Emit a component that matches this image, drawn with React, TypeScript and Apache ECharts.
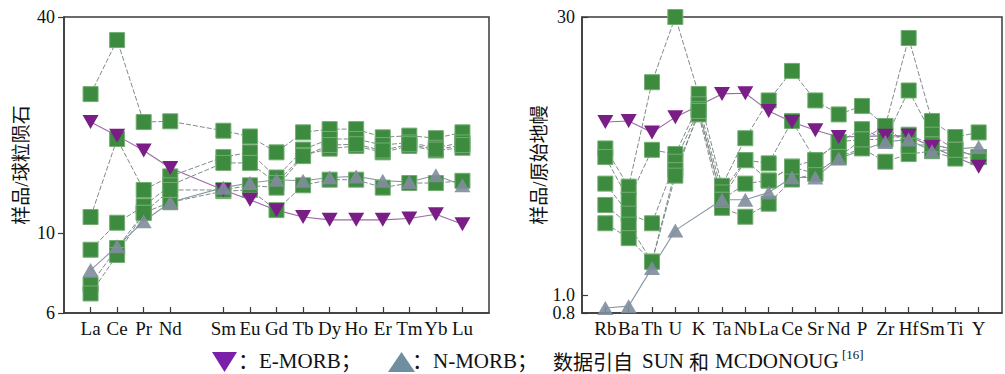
import React, { useEffect, useRef } from "react";
import * as echarts from "echarts";

// Chondrite-normalised REE pattern (left panel)
const REE = ["La", "Ce", "Pr", "Nd", "Sm", "Eu", "Gd", "Tb", "Dy", "Ho", "Er", "Tm", "Yb", "Lu"];
// axis slots: a blank slot at each end and an unlabelled slot for Pm
const REE_SLOTS = ["", "La", "Ce", "Pr", "Nd", "", "Sm", "Eu", "Gd", "Tb", "Dy", "Ho", "Er", "Tm", "Yb", "Lu", ""];
const REE_TICKS = [6, 10, 40];

const reeSampleA = [24.4, 34.5, 20.4, 20.5, 19.3, 18.6, 16.8, 19.1, 19.5, 19.5, 18.5, 18.7, 18.4, 19.1];
const reeSampleB = [11.1, 18.3, 13.2, 14.4, 16.3, 16.8, 14.3, 17.1, 18.3, 18.3, 17.6, 17.9, 17.3, 17.9];
const reeSampleC = [9.0, 10.7, 11.9, 13.6, 15.7, 15.7, 13.8, 16.5, 17.2, 17.5, 16.8, 17.5, 17.0, 17.3];
const reeSampleD = [7.2, 9.1, 11.4, 12.2, 13.1, 13.2, 11.6, 13.6, 14.1, 14.1, 13.4, 13.8, 13.8, 14.0];
const reeSampleE = [6.8, 8.7, 11.4, 13.2, 13.2, 13.6, 13.4, 16.4, 17.6, 17.7, 17.0, 17.7, 17.1, 17.6];
const reeEMORB = [20.4, 18.7, 17.0, 15.2, 13.2, 12.4, 11.6, 11.1, 10.9, 10.9, 10.9, 11.0, 11.3, 10.6];
const reeNMORB = [7.9, 9.2, 10.8, 12.2, 13.4, 13.8, 14.1, 14.0, 14.3, 14.4, 14.0, 13.9, 14.5, 13.6];

// Primitive-mantle-normalised trace elements (right panel)
const TRACE = ["Rb", "Ba", "Th", "U", "K", "Ta", "Nb", "La", "Ce", "Sr", "Nd", "P", "Zr", "Hf", "Sm", "Ti", "Y"];
const TRACE_SLOTS = ["", ...TRACE, ""];
const TRACE_TICKS = [0.8, 1, 30];

const trSampleA = [6.0, 3.76, 13.5, 30, 11.7, 3.8, 6.8, 10.8, 15.5, 10.8, 9.1, 10.1, 7.9, 23.2, 8.4, 6.9, 7.3];
const trSampleB = [5.4, 3.2, 5.9, 5.6, 10.3, 3.5, 5.2, 5.0, 8.4, 5.2, 6.5, 7.6, 6.7, 12.2, 7.1, 5.9, 5.4];
const trSampleC = [3.9, 2.7, 2.4, 5.1, 9.7, 3.2, 3.9, 4.05, 4.8, 4.4, 5.4, 6.7, 6.7, 7.1, 6.3, 5.9, 5.4];
const trSampleD = [3.0, 2.36, 1.5, 4.6, 9.1, 2.9, 2.6, 3.05, 4.1, 4.4, 5.4, 6.0, 5.1, 5.6, 5.8, 5.3, 5.4];
const trSampleE = [2.4, 2.0, 1.5, 4.3, 9.5, 3.2, 5.2, 4.05, 4.8, 5.2, 6.5, 6.7, 7.9, 6.2, 6.3, 5.9, 5.4];
const trEMORB = [8.3, 8.4, 7.3, 8.8, null, 11.7, 11.8, 9.5, 8.3, 7.5, 6.9, null, 7.0, 7.0, 6.1, null, 4.8];
const trNMORB = [0.85, 0.87, 1.39, 2.2, null, 3.2, 3.2, 3.5, 4.2, 4.2, 5.3, null, 6.5, 6.7, 5.8, null, 6.1];

const SERIF = "'Liberation Serif', 'Noto Sans CJK SC', serif";
const CJK = "'Noto Sans CJK SC', sans-serif";
const INK = "#111";
const FRAME = "#3a3a3a";

const toSlots = (names: string[], slots: string[], values: (number | null)[]) =>
  slots.map((s) => {
    const i = s ? names.indexOf(s) : -1;
    return i >= 0 ? values[i] : null;
  });

const fmtTick = (v: number) => (v < 1.05 ? v.toFixed(1) : String(Math.round(v)));

function sampleSeries(axis: number, names: string[], slots: string[], values: number[]) {
  return {
    type: "line",
    xAxisIndex: axis,
    yAxisIndex: axis,
    data: toSlots(names, slots, values),
    connectNulls: true,
    clip: false,
    symbol: "rect",
    symbolSize: 15,
    itemStyle: { color: "#3c8b3f", borderColor: "#74ad74", borderWidth: 1 },
    lineStyle: { color: "#7f8b8b", width: 1, type: [5, 2] },
    emphasis: { disabled: true },
  };
}

function morbSeries(axis: number, names: string[], slots: string[], values: (number | null)[], kind: "E" | "N") {
  const e = kind === "E";
  return {
    type: "line",
    xAxisIndex: axis,
    yAxisIndex: axis,
    data: toSlots(names, slots, values),
    connectNulls: true,
    clip: false,
    symbol: "triangle",
    symbolRotate: e ? 180 : 0,
    symbolSize: [16, 14],
    itemStyle: { color: e ? "#7b1d86" : "#7f8d9c", opacity: e ? 1 : 0.9 },
    lineStyle: { color: e ? "#9a6ba2" : "#8a97a4", width: 1.1 },
    emphasis: { disabled: true },
  };
}

function xAxisFor(grid: number, slots: string[]) {
  return {
    type: "category",
    gridIndex: grid,
    data: slots,
    boundaryGap: false,
    axisLine: { lineStyle: { color: FRAME, width: 1.5 } },
    axisTick: {
      inside: true,
      length: 6,
      interval: (_i: number, v: string) => v !== "",
      lineStyle: { color: FRAME, width: 1.2 },
    },
    axisLabel: { interval: 0, margin: 6, fontFamily: SERIF, fontSize: 19, color: INK },
    splitLine: { show: false },
  };
}

function yAxisFor(grid: number, min: number, max: number, ticks: number[], name: string, inside: boolean, margin: number) {
  return {
    type: "log",
    logBase: 10,
    gridIndex: grid,
    min,
    max,
    name,
    nameLocation: "middle",
    nameRotate: 90,
    nameGap: 33,
    nameTextStyle: { fontFamily: SERIF, fontSize: 19, color: INK },
    axisLine: { show: true, lineStyle: { color: FRAME, width: 1.5 } },
    axisTick: { show: true, inside, length: 6, customValues: ticks, lineStyle: { color: FRAME, width: 1.2 } },
    axisLabel: { customValues: ticks, formatter: fmtTick, margin, fontFamily: SERIF, fontSize: 18, color: INK },
    splitLine: { show: false },
    minorTick: { show: false },
  };
}

const legendText = (x: number, y: number, text: string, size = 21, family = SERIF) => ({
  type: "text",
  x,
  y,
  style: { text, fill: INK, fontFamily: family, fontSize: size, align: "left", verticalAlign: "middle" },
});

export default function App() {
  const ref = useRef<HTMLDivElement>(null);

  useEffect(() => {
    if (!ref.current) return;
    const chart = echarts.init(ref.current, null, { renderer: "svg" });
    chart.setOption({
      animation: false,
      backgroundColor: "#fff",
      grid: [
        { left: 64, top: 17, width: 425, height: 296, show: true, borderColor: FRAME, borderWidth: 1.5 },
        { left: 582, top: 17, width: 427, height: 296, show: true, borderColor: FRAME, borderWidth: 1.5 },
      ],
      xAxis: [xAxisFor(0, REE_SLOTS), xAxisFor(1, TRACE_SLOTS)],
      yAxis: [
        yAxisFor(0, 6, 40, REE_TICKS, "样品/球粒陨石", false, 9),
        yAxisFor(1, 0.8, 30, TRACE_TICKS, "样品/原始地幔", true, 7),
      ],
      series: [
        sampleSeries(0, REE, REE_SLOTS, reeSampleA),
        sampleSeries(0, REE, REE_SLOTS, reeSampleB),
        sampleSeries(0, REE, REE_SLOTS, reeSampleC),
        sampleSeries(0, REE, REE_SLOTS, reeSampleD),
        sampleSeries(0, REE, REE_SLOTS, reeSampleE),
        morbSeries(0, REE, REE_SLOTS, reeEMORB, "E"),
        morbSeries(0, REE, REE_SLOTS, reeNMORB, "N"),
        sampleSeries(1, TRACE, TRACE_SLOTS, trSampleA),
        sampleSeries(1, TRACE, TRACE_SLOTS, trSampleB),
        sampleSeries(1, TRACE, TRACE_SLOTS, trSampleC),
        sampleSeries(1, TRACE, TRACE_SLOTS, trSampleD),
        sampleSeries(1, TRACE, TRACE_SLOTS, trSampleE),
        morbSeries(1, TRACE, TRACE_SLOTS, trEMORB, "E"),
        morbSeries(1, TRACE, TRACE_SLOTS, trNMORB, "N"),
      ],
      graphic: [
        { type: "polygon", shape: { points: [[212, 352], [237, 352], [224.5, 372]] }, style: { fill: "#7a1fa8" } },
        legendText(238, 361, "：E-MORB；"),
        { type: "polygon", shape: { points: [[388, 372], [415, 372], [401.5, 352]] }, style: { fill: "#6f8fa0" } },
        legendText(412, 361, "：N-MORB；"),
        legendText(553, 361, "数据引自", 20, CJK),
        legendText(642, 361, "SUN"),
        legendText(689, 361, "和", 20, CJK),
        legendText(715, 361, "MCDONOUG"),
        legendText(842, 354, "[16]", 13),
      ],
    });
    return () => chart.dispose();
  }, []);

  return <div ref={ref} style={{ position: "absolute", left: 0, top: 0, width: 1005, height: 374 }} />;
}
